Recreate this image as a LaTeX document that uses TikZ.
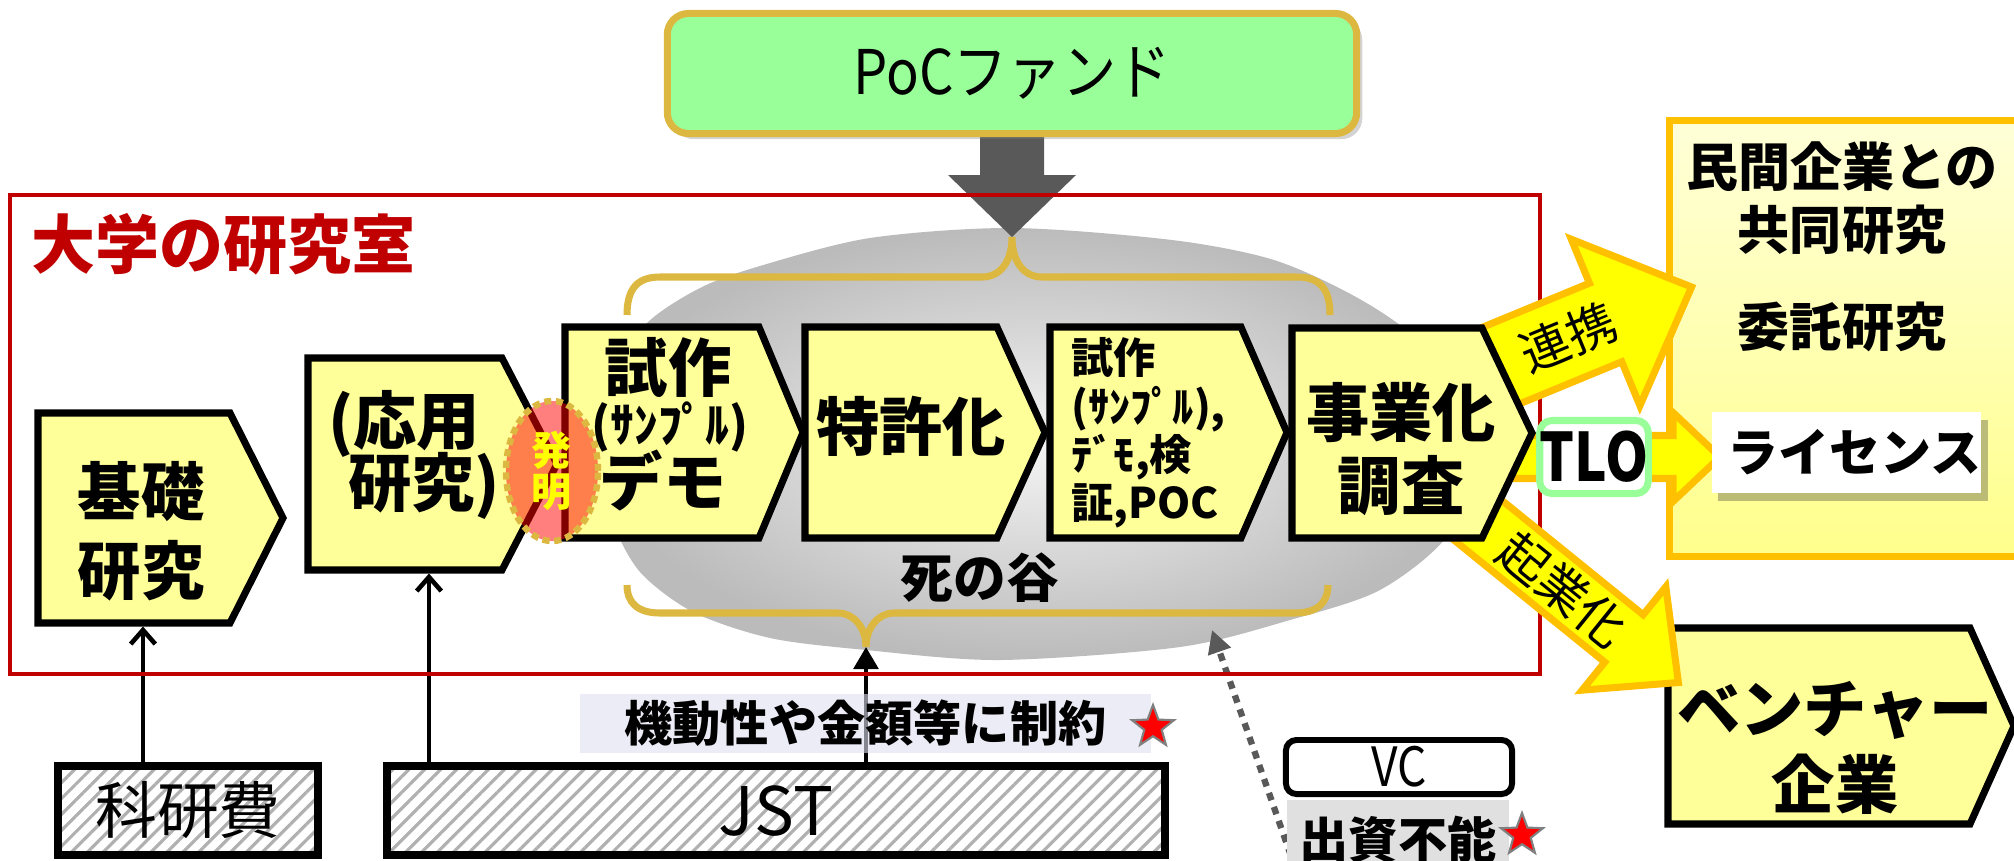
\documentclass[tikz,border=0pt]{standalone}
\usepackage{fontspec}
\usepackage{graphicx}
\setmainfont{Noto Sans CJK JP}
\usetikzlibrary{calc,fit,shapes.geometric,arrows.meta,patterns.meta,shadows}
\pgfdeclarelayer{back}
\pgfsetlayers{back,main}
\definecolor{labred}{HTML}{C00000}
\definecolor{boxyellow}{HTML}{FFFF99}
\definecolor{gold}{HTML}{DDB840}
\definecolor{pocgreen}{HTML}{99FF99}
\definecolor{arrowyellow}{HTML}{FFFF00}
\definecolor{arroworange}{HTML}{FFC000}
\definecolor{darkarrow}{HTML}{595959}
\definecolor{lavender}{HTML}{E0E0F0}
\definecolor{labelgray}{HTML}{E0E0E0}
\definecolor{hatchgray}{HTML}{B0B0B0}
\definecolor{shadowolive}{HTML}{8F8F60}
\definecolor{minkantop}{HTML}{FFFFD8}
\definecolor{minkanbot}{HTML}{FFFF8C}
\definecolor{blobin}{HTML}{F4F4F4}
\definecolor{blobout}{HTML}{BBBBBB}
\newcommand\myfs[2]{\fontsize{#1pt}{#2pt}\selectfont\lineskiplimit=-100pt\relax}
\tikzset{
  area/.style={inner sep=0pt, outer sep=0pt},
  chevstyle/.style={draw=black, fill=boxyellow, line width=2pt, line join=miter, miter limit=10},
  boxtext/.style={inner sep=0pt, align=center, font=\myfs{18}{22.5}\bfseries},
  smalltext/.style={inner sep=0pt, align=left, font=\myfs{12}{13.75}\bfseries},
  yarrow/.style={draw=arroworange, fill=arrowyellow, line width=2pt, line join=miter},
  arrowlabel/.style={inner sep=0pt, font=\myfs{14}{16}},
  brace/.style={draw=gold, line width=2pt},
  openarrow/.style={line width=1.3pt, shorten >=1pt, -{Straight Barb[length=4pt,width=7pt]}},
  solidarrow/.style={line width=1.3pt, -{Triangle[length=6.3pt,width=7pt]}},
  dotarrow/.style={draw=darkarrow, line width=1.8pt, dash pattern=on 2.2pt off 2pt, -{Triangle[length=6.5pt,width=6.5pt]}},
  hatchbox/.style={draw=black, line width=2.3pt, preaction={fill=white}, pattern={Lines[angle=45,distance=3.2pt,line width=0.9pt]}, pattern color=hatchgray, inner sep=0pt},
  redstar/.style={star, star points=5, star point ratio=2.4, fill=red, draw=gray, line width=0.6pt, inner sep=0pt, minimum size=0.44cm},
  kidoulabel/.style={fill=lavender, fill opacity=0.6, text opacity=1, minimum width=5.71cm, minimum height=0.59cm, inner sep=0pt, font=\myfs{13.7}{15}\bfseries},
  pocbox/.style={draw=gold, fill=pocgreen, line width=2pt, rounded corners=6pt, minimum width=6.89cm, minimum height=1.20cm, inner sep=0pt, font=\myfs{17.5}{19}, drop shadow={shadow xshift=1.6pt, shadow yshift=-1.6pt, opacity=0.35}},
  tlobox/.style={draw=pocgreen, fill=white, line width=2pt, rounded corners=3.5pt, minimum width=1.05cm, minimum height=0.73cm, inner sep=0pt, font=\myfs{19}{20}\bfseries},
  hatsu/.style={ellipse, draw=gold, line width=1.8pt, dash pattern=on 2pt off 1.3pt, fill=red, fill opacity=0.5, text opacity=1, text=arrowyellow, minimum width=0.92cm, minimum height=1.40cm, inner sep=0pt, align=center, font=\myfs{11.4}{11.7}\bfseries},
  licbox/.style={fill=white, minimum width=2.49cm, minimum height=0.81cm, inner sep=0pt, font=\myfs{14.5}{16}\bfseries, drop shadow={shadow xshift=1.8pt, shadow yshift=-2.2pt, fill=shadowolive, opacity=0.6}},
  vcbox/.style={draw=black, line width=1.7pt, fill=white, rounded corners=3pt, minimum width=2.26cm, minimum height=0.54cm, inner sep=0pt, font=\myfs{15.4}{16}},
  graylabel/.style={fill=labelgray, minimum width=2.22cm, minimum height=0.8cm, inner sep=0pt, font=\myfs{14}{16}\bfseries}
}
\newcommand\mychev[6]{%
  \node[area, fit={(#2,#3) (#4,#5)}] (#1) {};
  \draw[chevstyle] (#1.north west) -- (#1.north east) -- ($(#1.east)+(#6,0)$) -- (#1.south east) -- (#1.south west) -- cycle;}
\newcommand\blockarrow[4]{%
  \draw[yarrow] (0,-#2/2) -- ({#1-#4},-#2/2) -- ({#1-#4},-#3/2) -- (#1,0) -- ({#1-#4},#3/2) -- ({#1-#4},#2/2) -- (0,#2/2) -- cycle;}
\begin{document}
\begin{tikzpicture}[x=0.01cm,y=-0.01cm]
\useasboundingbox (0,0) rectangle (2014,860);
% valley of death blob
\begin{pgfonlayer}{back}
  \shade[inner color=blobin, outer color=blobout] plot[smooth cycle] coordinates {(1012,228) (1172,240) (1274,260) (1356,297) (1415,338) (1458,400) (1472,460) (1448,535) (1380,590) (1290,620) (1180,647) (1000,660) (866,650) (770,638) (693,612) (640,572) (612,520) (598,455) (612,375) (647,323) (700,288) (760,266) (870,238)};
\end{pgfonlayer}
% PoC fund
\node[pocbox] (poc) at (1012,73.5) {\scalebox{0.88}[1]{PoCファンド}};
\coordinate (btop) at (1012,237);
\coordinate (bbot) at (866,647);
\begin{pgfonlayer}{back}
  \fill[darkarrow] ($(poc.south)+(-32,0)$) -- ($(poc.south)+(32,0)$) -- ($(btop)+(32,-62)$) -- ($(btop)+(64,-62)$) -- (btop) -- ($(btop)+(-64,-62)$) -- ($(btop)+(-32,-62)$) -- cycle;
\end{pgfonlayer}
% laboratory frame
\node[area, fit={(10,195) (1540,674)}, draw=labred, line width=1.4pt] (lab) {};
\node[anchor=west, inner sep=0pt, text=labred, font=\myfs{18.2}{20}\bfseries] (labtitle) at (31,244) {大学の研究室};
% braces
\draw[brace] (627,315) .. controls (627,288) and (638,277) .. (660,277) -- (982,277) .. controls (1000,277) and (1012,262) .. (btop) .. controls (1012,262) and (1024,277) .. (1042,277) -- (1297,277) .. controls (1319,277) and (1330,288) .. (1330,315);
\draw[brace] (627,585) .. controls (627,603) and (638,613) .. (660,613) -- (838,613) .. controls (854,613) and (866,628) .. (bbot) .. controls (866,628) and (878,613) .. (894,613) -- (1295,613) .. controls (1317,613) and (1328,603) .. (1328,585);
% chevrons
\mychev{kiso}{38}{413}{230}{623}{53}
\mychev{ouyou}{308}{358}{502}{570}{55}
\mychev{shisaku}{565}{327}{759}{538}{44}
\mychev{tokkyo}{805}{327}{997}{538}{48}
\mychev{kensho}{1050}{327}{1241}{538}{46}
% right side boxes
\node[area, fit={(1669.5,120.5) (2060,556.5)}, draw=arroworange, line width=2pt, top color=minkantop, bottom color=minkanbot] (minkan) {};
\mychev{venture}{1668}{628}{1970}{824}{44}
% yellow block arrows
\begin{scope}[shift={(1466,380)}, rotate=22.4] \blockarrow{244}{85}{180}{93} \end{scope}
\begin{scope}[shift={(1453,500)}, rotate=-39] \blockarrow{290}{61}{133}{70} \end{scope}
\begin{scope}[shift={(1510,457)}] \blockarrow{210}{43}{89}{47} \end{scope}
\mychev{jigyo}{1292}{328}{1482}{538}{50}
\node[tlobox] (tlo) at (1594,457) {\scalebox{0.82}[1]{TLO}};
\node[licbox] (license) at (1846.5,452.5) {\hspace*{0.16cm}ライセンス};
\node[arrowlabel, rotate=22.4] (renkei) at (1568,337) {連携};
\node[arrowlabel, rotate=-39] (kigyo) at (1563,590) {起業化};
% invention
\node[hatsu] (hatsumei) at (552,471) {発\\明};
% box texts
\node[boxtext] (kisot) at (141,531) {基礎\\研究};
\node[boxtext, align=left, font=\myfs{18}{17.4}\bfseries] (ouyout) at (414,455) {(応用\\\hspace*{0.2cm}研究)};
\node[boxtext] (shisakut1) at (668,367) {試作};
\node[boxtext, font=\myfs{13.5}{15}\bfseries] (shisakut2) at (670,427) {(ｻﾝﾌﾟﾙ)};
\node[boxtext] (shisakut3) at (663,481) {デモ};
\node[boxtext] (tokkyot) at (911,426) {特許化};
\node[smalltext, anchor=west] (kenshot) at (1071,433) {試作\\(ｻﾝﾌﾟﾙ),\\ﾃﾞﾓ,検\\証,POC};
\node[boxtext, font=\myfs{18}{21}\bfseries] (jigyot) at (1401,449) {事業化\\調査};
\node[inner sep=0pt, font=\myfs{15}{16}\bfseries] (valleyt) at (980,578) {死の谷};
\node[inner sep=0pt, align=center, font=\myfs{14.8}{17.9}\bfseries] (minkant1) at (1842,198.5) {民間企業との\\共同研究};
\node[inner sep=0pt, font=\myfs{14.8}{16}\bfseries] (minkant2) at (1842,327) {委託研究};
\node[boxtext, font=\myfs{18}{21.6}\bfseries] (venturet) at (1835,748) {ベンチャー\\企業};
% funding sources
\node[hatchbox, minimum width=2.60cm, minimum height=0.89cm, font=\myfs{17.6}{19}] (kaken) at (188,810.5) {科研費};
\node[hatchbox, minimum width=7.78cm, minimum height=0.89cm, font=\myfs{19}{20}] (jst) at (776,810.5) {JST};
\node[kidoulabel] (kidou) at (865.5,723.5) {機動性や金額等に制約};
\node[redstar] (star1) at (1153,727) {};
\node[vcbox] (vc) at (1399,767) {\scalebox{0.85}[1]{VC}};
\node[graylabel, anchor=north] (shushi) at (1398,799) {出資不能};
\node[redstar] (star2) at (1522,835) {};
\coordinate (vcfrom) at (1291,856);
\coordinate (valley) at (1212,630);
% connectors
\begin{pgfonlayer}{back}
  \coordinate (ax1) at (143,0);
  \coordinate (ax2) at (429,0);
  \draw[openarrow] (kaken.north -| ax1) -- (kiso.south -| ax1);
  \draw[openarrow] (jst.north -| ax2) -- (ouyou.south -| ax2);
  \draw[solidarrow] (jst.north -| bbot) -- (bbot);
  \draw[dotarrow] (vcfrom) -- (valley);
\end{pgfonlayer}
\end{tikzpicture}
\end{document}
